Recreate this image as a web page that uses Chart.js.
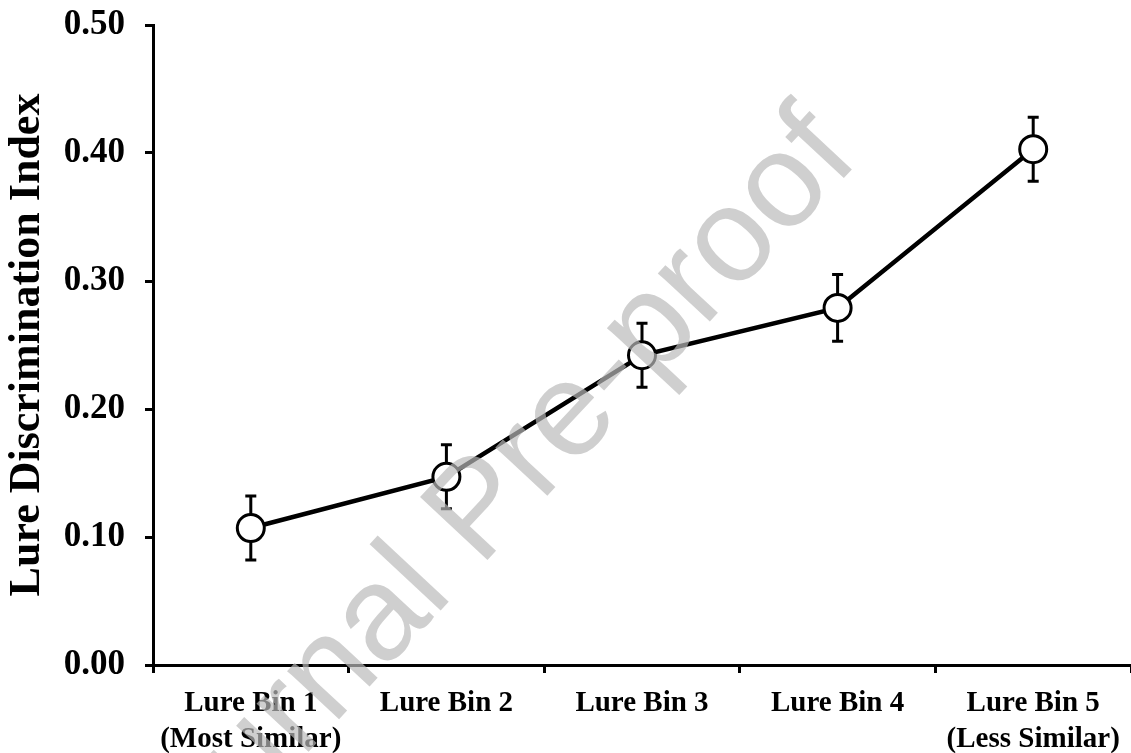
<!DOCTYPE html>
<html>
<head>
<meta charset="utf-8">
<script src="https://cdn.jsdelivr.net/npm/chart.js@4"></script>
<style>
  html, body { margin: 0; padding: 0; background: #fff; }
  #wrap { width: 1131px; height: 753px; }
</style>
</head>
<body>
<div id="wrap"><canvas id="grafico" width="1131" height="753"></canvas></div>
<script>
// Datos del grafico
const categorias = [
  ['Lure Bin 1', '(Most Similar)'],
  'Lure Bin 2',
  'Lure Bin 3',
  'Lure Bin 4',
  ['Lure Bin 5', '(Less Similar)']
];
const indice = [0.107, 0.147, 0.242, 0.279, 0.403];   // media
const errorEst = [0.025, 0.025, 0.025, 0.026, 0.025]; // error estandar
const yMin = 0;
const yMax = 0.5;
const yPaso = 0.1;

const serif = "'Times New Roman', 'Liberation Serif', serif";

// Barras de error, se dibujan antes que la linea para que los circulos las tapen
const barrasError = {
  id: 'barrasError',
  beforeDatasetsDraw(chart) {
    const ctx = chart.ctx;
    const x = chart.scales.x;
    const y = chart.scales.y;
    ctx.save();
    ctx.strokeStyle = '#000';
    ctx.lineWidth = 3;
    indice.forEach((v, i) => {
      const px = x.getPixelForValue(i);
      const top = y.getPixelForValue(v + errorEst[i]);
      const bot = y.getPixelForValue(v - errorEst[i]);
      ctx.beginPath();
      ctx.moveTo(px, top);
      ctx.lineTo(px, bot);
      ctx.moveTo(px - 5.5, top);
      ctx.lineTo(px + 5.5, top);
      ctx.moveTo(px - 5.5, bot);
      ctx.lineTo(px + 5.5, bot);
      ctx.stroke();
    });
    ctx.restore();
  }
};

// Marca de agua encima de todo
const marcaAgua = {
  id: 'marcaAgua',
  afterDraw(chart) {
    const ctx = chart.ctx;
    ctx.save();
    ctx.translate(508, 538);
    ctx.rotate(-47 * Math.PI / 180);
    ctx.font = "134px 'Liberation Sans', Arial, sans-serif";
    ctx.textAlign = 'center';
    ctx.textBaseline = 'alphabetic';
    ctx.fillStyle = 'rgba(186, 186, 186, 0.69)';
    ctx.fillText('Journal Pre-proof', 0, 0);
    ctx.restore();
  }
};

const config = {
  type: 'line',
  data: {
    labels: categorias,
    datasets: [{
      data: indice,
      borderColor: '#000',
      borderWidth: 4.5,
      tension: 0,
      pointRadius: 13.5,
      pointHoverRadius: 13.5,
      pointBackgroundColor: '#fff',
      pointBorderColor: '#000',
      pointBorderWidth: 3
    }]
  },
  options: {
    responsive: false,
    animation: false,
    events: [],
    layout: {
      autoPadding: false,
      padding: { top: 25, right: 0, left: 0, bottom: 0 }
    },
    plugins: {
      legend: { display: false },
      tooltip: { enabled: false }
    },
    scales: {
      x: {
        type: 'category',
        offset: true,
        border: { display: true, color: '#000', width: 3 },
        grid: {
          offset: true,
          drawOnChartArea: false,
          drawTicks: true,
          tickLength: 8,
          tickWidth: 3,
          tickColor: '#000'
        },
        ticks: {
          color: '#000',
          padding: 12,
          maxRotation: 0,
          autoSkip: false,
          font: { family: serif, size: 29, weight: 'bold', lineHeight: 1.25 }
        },
        afterFit(scale) {
          scale.height = 88;
          scale.paddingLeft = 0;
          scale.paddingRight = 0;
        }
      },
      y: {
        min: yMin,
        max: yMax,
        border: { display: true, color: '#000', width: 3 },
        grid: {
          drawOnChartArea: false,
          drawTicks: true,
          tickLength: 8,
          tickWidth: 3,
          tickColor: '#000'
        },
        ticks: {
          stepSize: yPaso,
          color: '#000',
          padding: 20,
          font: { family: serif, size: 35, weight: 'bold' },
          callback: (v) => Number(v).toFixed(2)
        },
        title: {
          display: true,
          text: 'Lure Discrimination Index',
          color: '#000',
          padding: { top: 1, bottom: 0 },
          font: { family: serif, size: 44, weight: 'bold', lineHeight: 1.2 }
        },
        afterFit(scale) {
          scale.width = 153;
          scale.paddingTop = 0;
          scale.paddingBottom = 0;
        }
      }
    }
  },
  plugins: [barrasError, marcaAgua]
};

new Chart(document.getElementById('grafico').getContext('2d'), config);
</script>
</body>
</html>
